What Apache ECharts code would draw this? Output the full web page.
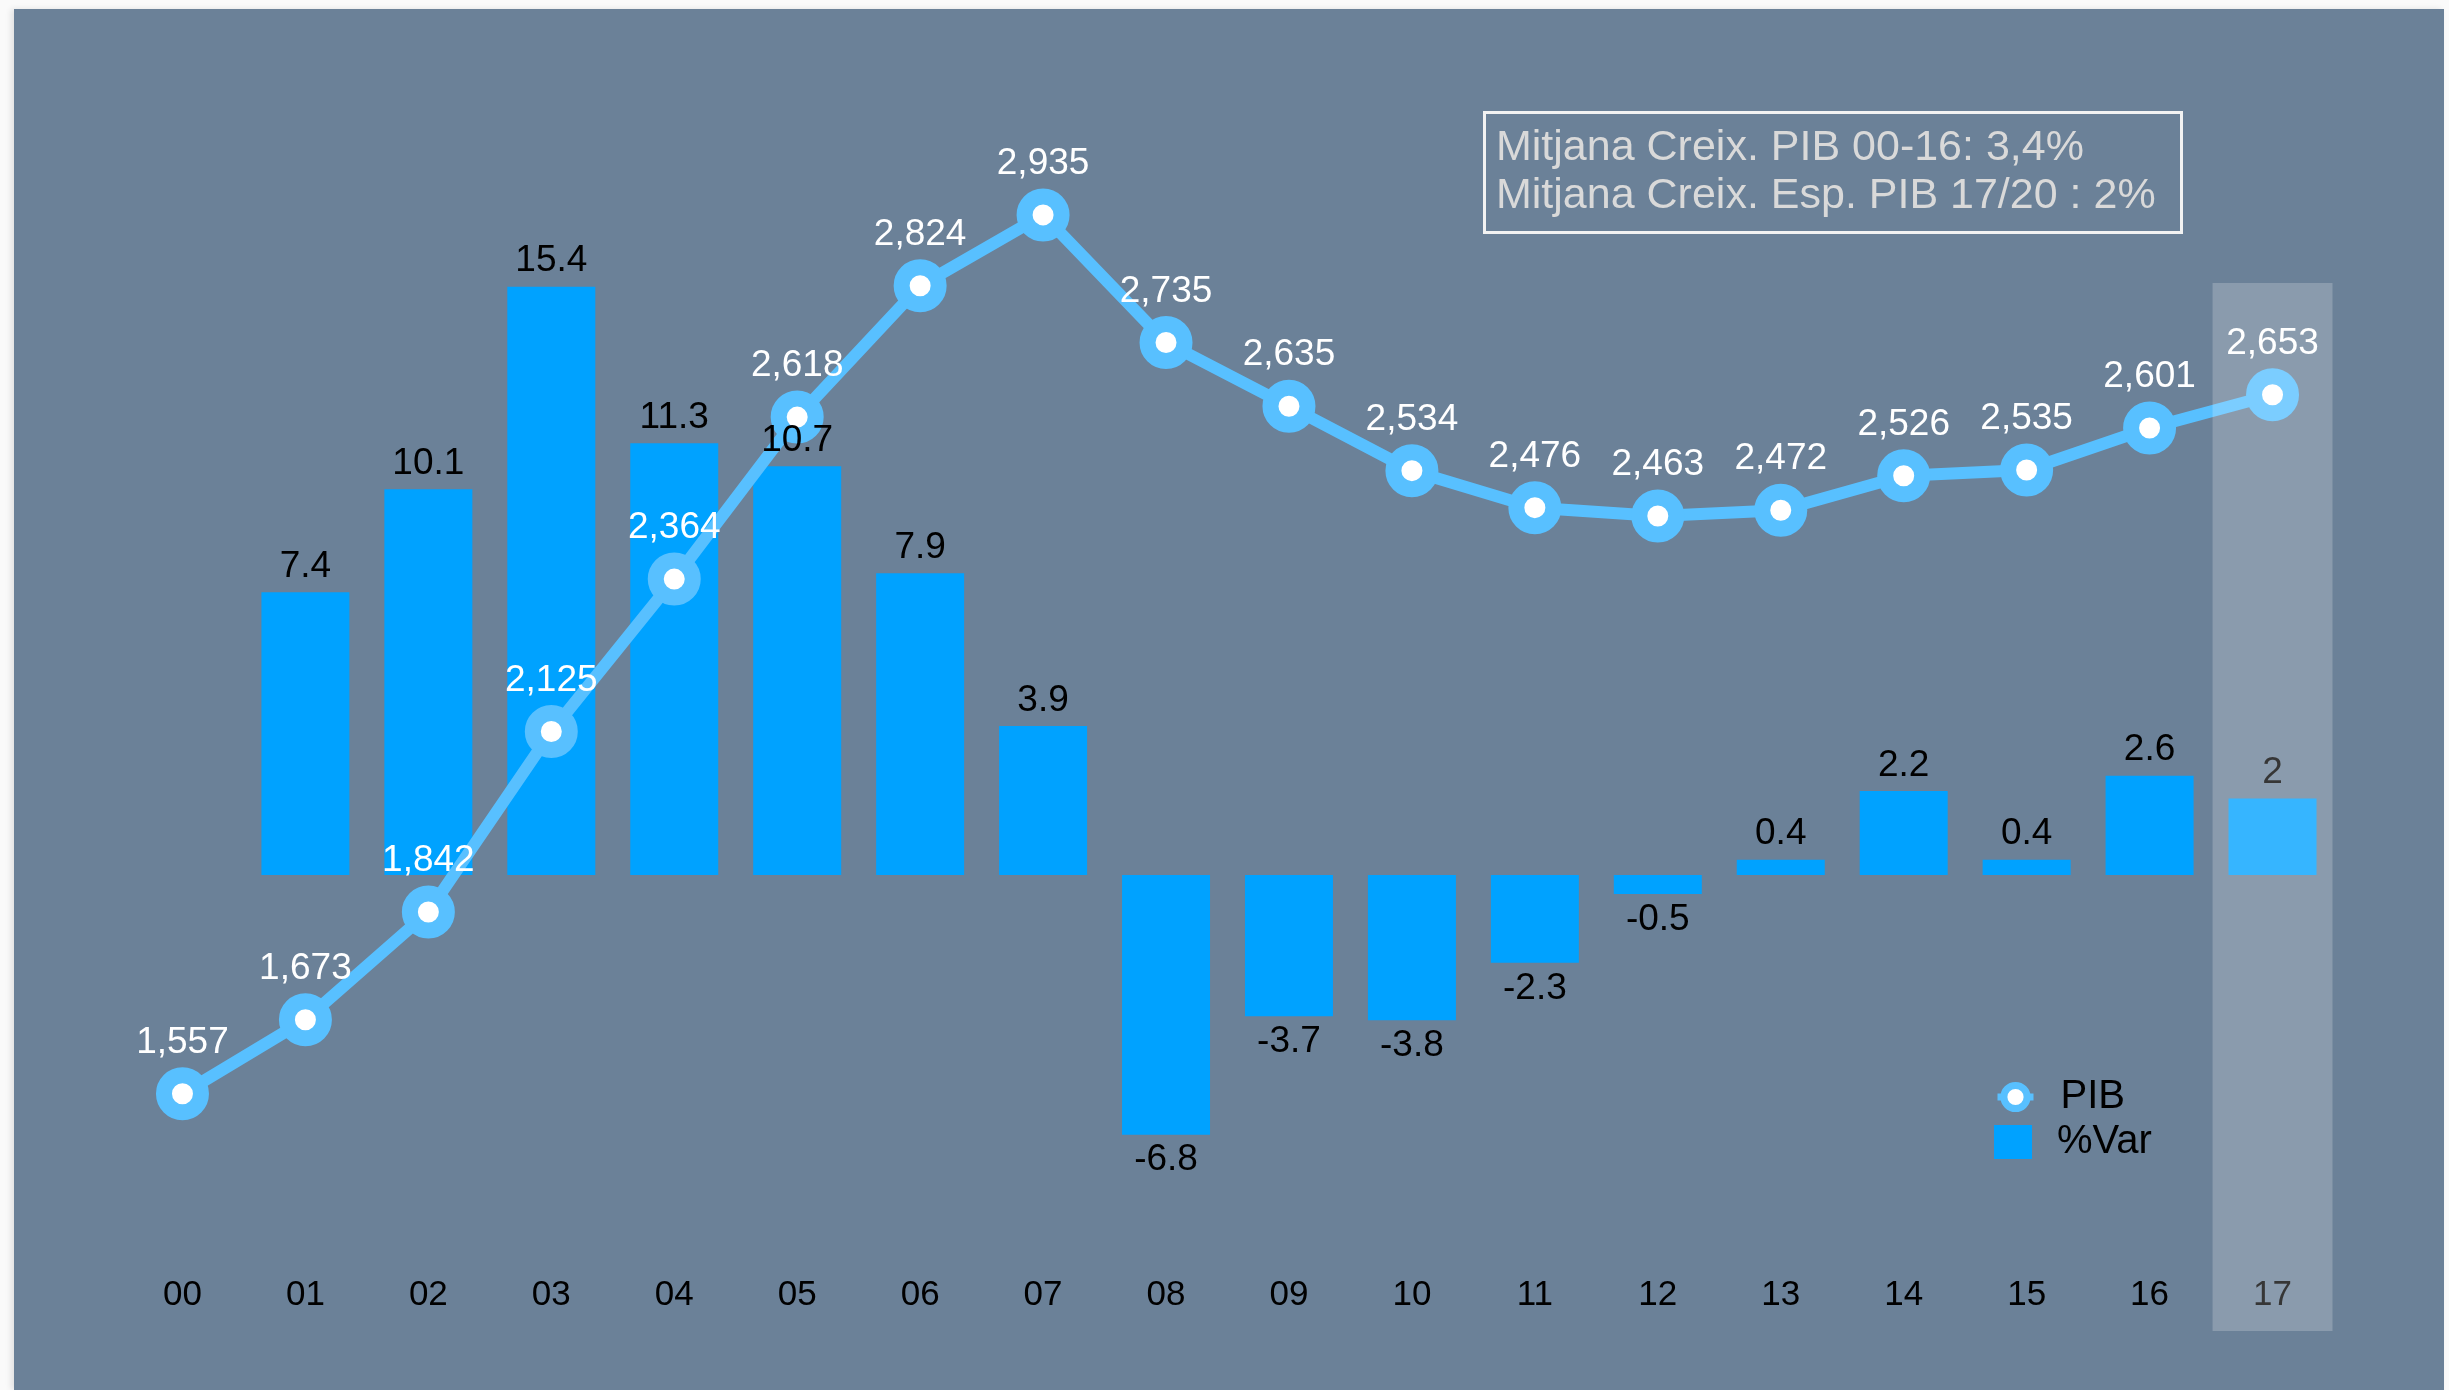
<!DOCTYPE html>
<html>
<head>
<meta charset="utf-8">
<script src="https://cdn.jsdelivr.net/npm/echarts@6/dist/echarts.min.js"></script>
<style>
html, body { margin: 0; padding: 0; background: #fafafa; }
#chart {
    position: absolute; left: 14px; top: 9px;
    width: 2430px; height: 1381px;
    box-shadow: -3px 0 6px rgba(0, 0, 0, 0.10);
}
</style>
</head>
<body>
<div id="chart"></div>
<script>
var years = ['00', '01', '02', '03', '04', '05', '06', '07', '08', '09',
             '10', '11', '12', '13', '14', '15', '16', '17'];
var pib = [1557, 1673, 1842, 2125, 2364, 2618, 2824, 2935, 2735, 2635,
           2534, 2476, 2463, 2472, 2526, 2535, 2601, 2653];
var variacio = ['-', 7.4, 10.1, 15.4, 11.3, 10.7, 7.9, 3.9, -6.8, -3.7,
                -3.8, -2.3, -0.5, 0.4, 2.2, 0.4, 2.6, 2];
var forecastYear = '17';
var notes = ['Mitjana Creix. PIB 00-16: 3,4%', 'Mitjana Creix. Esp. PIB 17/20 : 2%'];

var font = '"Liberation Sans", Arial, Helvetica, sans-serif';
var lineColor = '#58c0ff';
var barColor = '#00a2ff';

function thousands(v) {
    return String(v).replace(/\B(?=(\d{3})+(?!\d))/g, ',');
}

// bar labels go on a transparent copy of the bars so they sit over the line
var labelData = variacio.map(function (v) {
    if (v === '-') return '-';
    return { value: v, label: { position: v < 0 ? 'bottom' : 'top' } };
});

var myChart = echarts.init(document.getElementById('chart'));

var option = {
    animation: false,
    backgroundColor: '#6b8198',
    textStyle: { fontFamily: font },
    grid: { left: 107, right: 110, top: 102, bottom: 133 },
    legend: [
        {
            data: ['PIB'],
            orient: 'vertical',
            left: 1975, top: 1063,
            itemWidth: 36, itemHeight: 29,
            selectedMode: false,
            itemStyle: { borderWidth: 7 },
            lineStyle: { width: 7 },
            textStyle: { color: '#000', fontSize: 40, fontFamily: font, padding: [0, 0, 0, 22] }
        },
        {
            data: [{ name: '%Var', icon: 'rect' }],
            orient: 'vertical',
            left: 1975, top: 1108,
            itemWidth: 38, itemHeight: 34,
            selectedMode: false,
            textStyle: { color: '#000', fontSize: 40, fontFamily: font, padding: [0, 0, 0, 20] }
        }
    ],
    xAxis: {
        type: 'category',
        data: years,
        axisLine: { show: false, onZero: false },
        axisTick: { show: false },
        splitLine: { show: false },
        axisLabel: { color: '#000', fontSize: 35, fontFamily: font, margin: 21 }
    },
    yAxis: [
        { type: 'value', min: -10, max: 20, show: false },
        { type: 'value', min: 1301, max: 3098, show: false }
    ],
    graphic: [
        {
            type: 'rect',
            left: 1468, top: 101,
            shape: { width: 697, height: 120 },
            style: { fill: 'none', stroke: '#f2f2f2', lineWidth: 3 },
            z: 20
        },
        {
            type: 'text',
            left: 1482, top: 115,
            style: {
                text: notes.join('\n'),
                fill: '#d9d9d9',
                font: '43px ' + font,
                lineHeight: 48
            },
            z: 20
        }
    ],
    series: [
        {
            name: '%Var',
            type: 'bar',
            data: variacio,
            barWidth: 88,
            barGap: '-100%',
            itemStyle: { color: barColor },
            z: 2
        },
        {
            name: 'PIB',
            type: 'line',
            yAxisIndex: 1,
            data: pib,
            symbol: 'circle',
            symbolSize: 37,
            lineStyle: { color: lineColor, width: 12 },
            itemStyle: { color: '#fff', borderColor: lineColor, borderWidth: 16 },
            label: {
                show: true,
                position: 'top',
                distance: 6,
                color: '#fff',
                fontSize: 37,
                fontFamily: font,
                formatter: function (p) { return thousands(p.value); }
            },
            emphasis: { disabled: true },
            z: 3
        },
        {
            type: 'bar',
            data: labelData,
            barWidth: 88,
            barGap: '-100%',
            itemStyle: { color: 'transparent' },
            label: { show: true, distance: 7, color: '#000', fontSize: 37, fontFamily: font },
            silent: true,
            z: 4
        },
        {
            // light band over the forecast year
            type: 'custom',
            data: [[forecastYear, 0]],
            silent: true,
            clip: false,
            z: 10,
            renderItem: function (params, api) {
                var x = api.coord([api.value(0), 0])[0];
                var w = api.size([1, 0])[0];
                return {
                    type: 'rect',
                    shape: { x: x - w / 2 + 1.5, y: 274, width: w - 3, height: 1048 },
                    style: { fill: 'rgba(255,255,255,0.21)' }
                };
            }
        }
    ]
};

myChart.setOption(option);
</script>
</body>
</html>
